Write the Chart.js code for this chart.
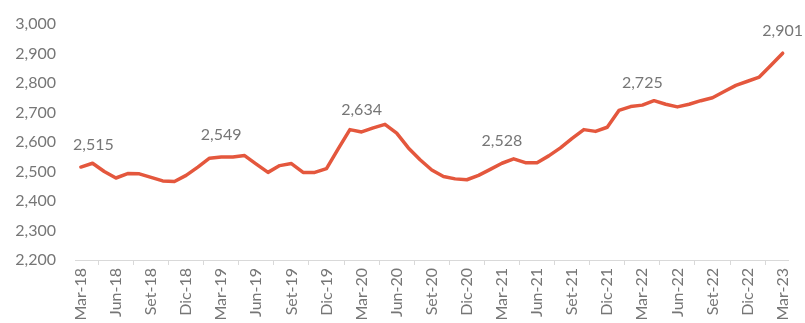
<!DOCTYPE html>
<html>
<head>
<meta charset="utf-8">
<script src="https://cdn.jsdelivr.net/npm/chart.js@4.4.1/dist/chart.umd.min.js"></script>
<style>
  html, body { margin: 0; padding: 0; background: #fff; }
  #wrap { width: 805px; height: 323px; position: relative; }
</style>
</head>
<body>
<div id="wrap"><canvas id="lineChart"></canvas></div>
<script>
const categories = [
  "Mar-18","Abr-18","May-18","Jun-18","Jul-18","Ago-18","Set-18","Oct-18","Nov-18","Dic-18",
  "Ene-19","Feb-19","Mar-19","Abr-19","May-19","Jun-19","Jul-19","Ago-19","Set-19","Oct-19","Nov-19","Dic-19",
  "Ene-20","Feb-20","Mar-20","Abr-20","May-20","Jun-20","Jul-20","Ago-20","Set-20","Oct-20","Nov-20","Dic-20",
  "Ene-21","Feb-21","Mar-21","Abr-21","May-21","Jun-21","Jul-21","Ago-21","Set-21","Oct-21","Nov-21","Dic-21",
  "Ene-22","Feb-22","Mar-22","Abr-22","May-22","Jun-22","Jul-22","Ago-22","Set-22","Oct-22","Nov-22","Dic-22",
  "Ene-23","Feb-23","Mar-23"
];

const values = [
  2515, 2528, 2500, 2478, 2493, 2492, 2480, 2468, 2466, 2487,
  2515, 2545, 2549, 2549, 2554, 2525, 2497, 2520, 2527, 2497, 2497, 2510,
  2577, 2642, 2634, 2648, 2660, 2630, 2580, 2540, 2505, 2483, 2475, 2472,
  2487, 2507, 2528, 2543, 2530, 2530, 2553, 2580, 2612, 2642, 2636, 2650,
  2707, 2720, 2725, 2740, 2728, 2719, 2728, 2740, 2750, 2771, 2792, 2806,
  2820, 2860, 2901
];

// points that carry a value label
const labeledIdx = [0, 12, 24, 36, 48, 60];

const yMin = 2200;
const yMax = 3000;
const yStep = 100;

const FONT = "Lato, 'Open Sans', sans-serif";
const GREY = "#767676";

function fmt(n) {
  return Number(n).toLocaleString("en-US");
}

// simple value labels above selected points (kept inside the plot on the left)
const valueLabels = {
  id: "valueLabels",
  afterDatasetsDraw(chart) {
    const { ctx, chartArea } = chart;
    const meta = chart.getDatasetMeta(0);
    ctx.save();
    ctx.font = "16px " + FONT;
    ctx.fillStyle = GREY;
    ctx.textAlign = "center";
    ctx.textBaseline = "middle";
    labeledIdx.forEach((i) => {
      const pt = meta.data[i];
      const txt = fmt(values[i]);
      const w = ctx.measureText(txt).width;
      const x = Math.max(pt.x, chartArea.left + w / 2 - 2);
      ctx.fillText(txt, x, pt.y - 22);
    });
    ctx.restore();
  }
};

new Chart(document.getElementById("lineChart"), {
  type: "line",
  data: {
    labels: categories,
    datasets: [{
      data: values,
      borderColor: "#E4573D",
      borderWidth: 3.5,
      pointRadius: 0,
      tension: 0,
      borderJoinStyle: "round",
      borderCapStyle: "round",
      fill: false
    }]
  },
  options: {
    responsive: true,
    maintainAspectRatio: false,
    animation: false,
    layout: { padding: { top: 24, right: 14, left: 0, bottom: 0 } },
    plugins: {
      legend: { display: false },
      tooltip: { enabled: false }
    },
    scales: {
      x: {
        type: "category",
        offset: true,
        grid: {
          offset: true,
          drawOnChartArea: false,
          drawTicks: true,
          tickLength: 5,
          color: "#d9d9d9"
        },
        border: { display: true, color: "#d9d9d9", width: 1 },
        ticks: {
          autoSkip: false,
          minRotation: 90,
          maxRotation: 90,
          padding: 3,
          color: GREY,
          font: { family: FONT, size: 16 },
          callback: function (val, i) {
            return i % 3 === 0 ? this.getLabelForValue(val) : null;
          }
        },
        afterFit(axis) { axis.height = 63; }
      },
      y: {
        min: yMin,
        max: yMax,
        grid: { display: false },
        border: { display: false },
        ticks: {
          stepSize: yStep,
          padding: 11,
          color: GREY,
          font: { family: FONT, size: 16 },
          callback: (v) => fmt(v)
        },
        afterFit(axis) { axis.width = 75; }
      }
    }
  },
  plugins: [valueLabels]
});
</script>
</body>
</html>
